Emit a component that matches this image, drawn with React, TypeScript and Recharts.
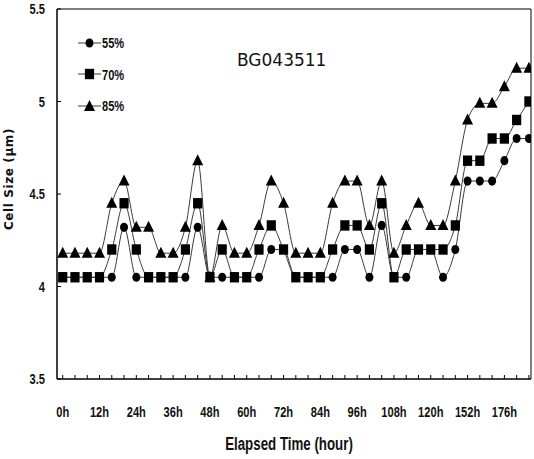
import React from 'react';
import { LineChart, Line, XAxis, YAxis, ReferenceArea, Legend } from 'recharts';

const tickLabels = ['0h', '12h', '24h', '36h', '48h', '60h', '72h', '84h', '96h', '108h', '120h', '152h', '176h'];

const s55 = [4.05, 4.05, 4.05, 4.05, 4.05, 4.32, 4.05, 4.05, 4.05, 4.05, 4.05, 4.32, 4.05, 4.05, 4.05, 4.05, 4.05, 4.2, 4.2, 4.05, 4.05, 4.05, 4.05, 4.2, 4.2, 4.05, 4.33, 4.05, 4.05, 4.2, 4.2, 4.05, 4.2, 4.57, 4.57, 4.57, 4.68, 4.8, 4.8];
const s70 = [4.05, 4.05, 4.05, 4.05, 4.2, 4.45, 4.2, 4.05, 4.05, 4.05, 4.2, 4.45, 4.05, 4.2, 4.05, 4.05, 4.2, 4.33, 4.2, 4.05, 4.05, 4.05, 4.2, 4.33, 4.33, 4.2, 4.45, 4.05, 4.2, 4.2, 4.2, 4.2, 4.33, 4.68, 4.68, 4.8, 4.8, 4.9, 5.0];
const s85 = [4.18, 4.18, 4.18, 4.18, 4.45, 4.57, 4.32, 4.32, 4.18, 4.18, 4.32, 4.68, 4.05, 4.33, 4.18, 4.18, 4.33, 4.57, 4.45, 4.18, 4.18, 4.18, 4.45, 4.57, 4.57, 4.33, 4.57, 4.18, 4.33, 4.45, 4.33, 4.33, 4.57, 4.9, 4.99, 4.99, 5.08, 5.18, 5.18];

const yTicks = [3.5, 4, 4.5, 5, 5.5];

const data = s55.map((v, i) => ({ t: i, p55: v, p70: s70[i], p85: s85[i] }));
const xTicks = data.map((d) => d.t);

const NARROW = '"Liberation Sans", Arial, sans-serif';
const SQ = 0.74;
const LINE = '#3a3a3a';

const CircleDot = (p: any) => <ellipse key={`c${p.index}`} cx={p.cx} cy={p.cy} rx={4} ry={4.6} fill="#000" />;
const SquareDot = (p: any) => <rect key={`s${p.index}`} x={p.cx - 4.6} y={p.cy - 5.2} width={9.2} height={10.4} fill="#000" />;
const TriDot = (p: any) => (
  <polygon key={`t${p.index}`} points={`${p.cx},${p.cy - 6.5} ${p.cx - 5.5},${p.cy + 4.5} ${p.cx + 5.5},${p.cy + 4.5}`} fill="#000" />
);

const XTick = (p: any) => {
  const v = p.payload.value;
  const label = v % 3 === 0 ? tickLabels[v / 3] : '';
  return (
    <g>
      <line x1={p.x} y1={p.y} x2={p.x} y2={p.y - 4} stroke="#000" strokeWidth={1} />
      {label ? (
        <text transform={`translate(${p.x},${p.y + 38}) scale(${SQ},1)`} x={0} y={0} textAnchor="middle" fontFamily={NARROW} fontSize={15} fontWeight="bold" fill="#111">
          {label}
        </text>
      ) : null}
    </g>
  );
};

const YTick = (p: any) => (
  <g>
    <line x1={p.x} y1={p.y} x2={p.x + 4} y2={p.y} stroke="#000" strokeWidth={1} />
    <text transform={`translate(${p.x - 12},${p.y}) scale(${SQ},1)`} x={0} y={0} dy="0.36em" textAnchor="end" fontFamily={NARROW} fontSize={15} fontWeight="bold" fill="#111">
      {String(p.payload.value)}
    </text>
  </g>
);

const XTitle = (p: any) => {
  const vb = p.viewBox;
  const cx = vb.x + vb.width / 2 - 5;
  const y = vb.y + vb.height - 9;
  return (
    <text transform={`translate(${cx},${y}) scale(0.72,1)`} x={0} y={0} textAnchor="middle" fontFamily={NARROW} fontSize={18.5} fontWeight="bold" fill="#111">
      Elapsed Time (hour)
    </text>
  );
};

const legendItems = [
  { name: '55%', shape: 'circle' },
  { name: '70%', shape: 'square' },
  { name: '85%', shape: 'triangle' },
];

const LegendContent = () => (
  <div>
    {legendItems.map((it) => (
      <div key={it.name} style={{ display: 'flex', alignItems: 'center', height: 31.5 }}>
        <svg width={23} height={14} style={{ display: 'block' }}>
          <line x1={0} y1={7} x2={23} y2={7} stroke={LINE} strokeWidth={1} />
          {it.shape === 'circle' && <ellipse cx={11.5} cy={7} rx={4} ry={4.6} fill="#000" />}
          {it.shape === 'square' && <rect x={6.9} y={1.8} width={9.2} height={10.4} fill="#000" />}
          {it.shape === 'triangle' && <polygon points="11.5,1 6,12 17,12" fill="#000" />}
        </svg>
        <span style={{ display: 'inline-block', transform: `scaleX(${SQ})`, transformOrigin: 'left center', fontFamily: NARROW, fontSize: 15, fontWeight: 'bold', color: '#111', marginLeft: 1 }}>{it.name}</span>
      </div>
    ))}
  </div>
);

export default function App() {
  return (
    <div style={{ position: 'absolute', left: 0, top: 0, width: 534, height: 459, background: '#fff' }}>
      <LineChart width={534} height={459} data={data} margin={{ top: 9, right: 3, left: 0, bottom: 0 }}>
        <XAxis
          dataKey="t"
          type="number"
          domain={[-0.465, 38.17]}
          allowDataOverflow
          ticks={xTicks}
          interval={0}
          tick={<XTick />}
          tickLine={false}
          tickSize={0}
          tickMargin={0}
          height={80}
          axisLine={{ stroke: '#000', strokeWidth: 1.2 }}
          label={<XTitle />}
        />
        <YAxis
          type="number"
          domain={[3.5, 5.5]}
          ticks={yTicks}
          interval={0}
          tick={<YTick />}
          tickLine={false}
          tickSize={0}
          tickMargin={0}
          width={57}
          axisLine={{ stroke: '#000', strokeWidth: 1 }}
          label={{ value: 'Cell Size (\u03bcm)', angle: -90, position: 'insideLeft', offset: 0, dx: 9, dy: -15, style: { fontFamily: '"DejaVu Sans", Verdana, sans-serif', fontSize: 12, fontWeight: 'bold', fill: '#111', textAnchor: 'middle', letterSpacing: 0.6 } }}
        />
        <ReferenceArea x1={-0.465} x2={38.17} y1={3.5} y2={5.5} fill="none" stroke="#000" strokeWidth={1} ifOverflow="visible" />
        <Legend
          layout="vertical"
          align="center"
          verticalAlign="middle"
          wrapperStyle={{ left: 78, top: 27, width: 60 }}
          content={<LegendContent />}
        />
        <Line dataKey="p85" name="85%" type="monotone" stroke={LINE} strokeWidth={1} dot={TriDot} activeDot={false} isAnimationActive={false} legendType="triangle" />
        <Line dataKey="p55" name="55%" type="monotone" stroke={LINE} strokeWidth={1} dot={CircleDot} activeDot={false} isAnimationActive={false} legendType="circle" />
        <Line dataKey="p70" name="70%" type="monotone" stroke={LINE} strokeWidth={1} dot={SquareDot} activeDot={false} isAnimationActive={false} legendType="square" />
      </LineChart>
      <div style={{ position: 'absolute', left: 237, top: 50, fontFamily: '"DejaVu Sans", Verdana, sans-serif', fontSize: 17, color: '#111', whiteSpace: 'nowrap' }}>
        BG043511
      </div>
    </div>
  );
}
